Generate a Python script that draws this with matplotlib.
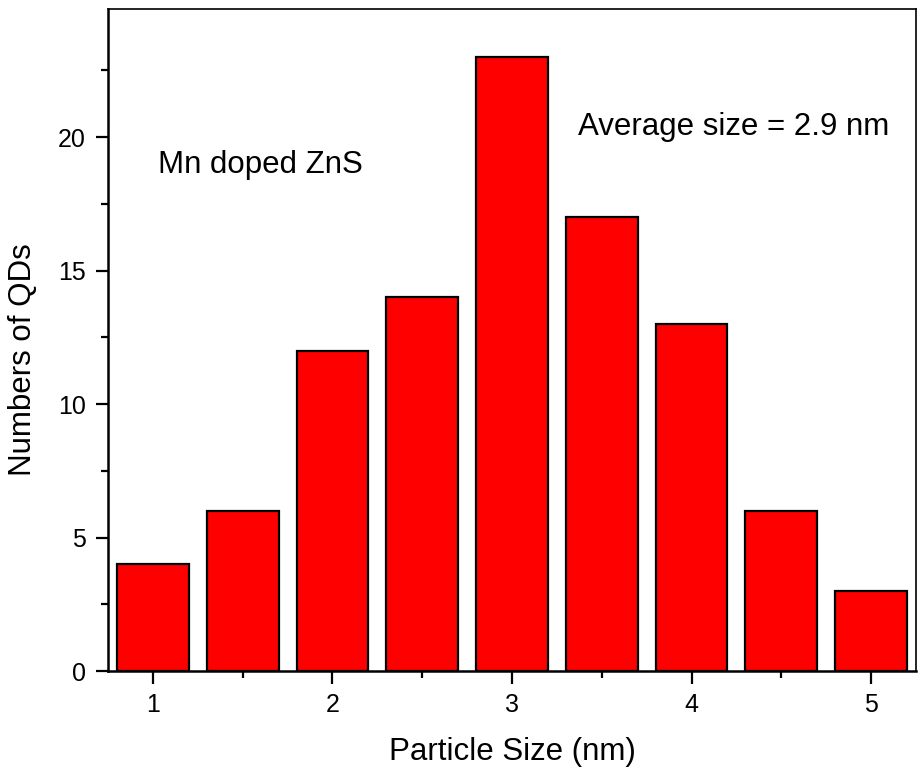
import matplotlib.pyplot as plt
from matplotlib.ticker import MultipleLocator

plt.rcParams['font.family'] = ['Liberation Sans', 'DejaVu Sans']

# particle size bins (nm) and counts
sizes = [1.0, 1.5, 2.0, 2.5, 3.0, 3.5, 4.0, 4.5, 5.0]
counts = [4, 6, 12, 14, 23, 17, 13, 6, 3]

fig = plt.figure(figsize=(9.19, 7.77), dpi=100)
ax = fig.add_axes([0.1175, 0.1364, 0.8792, 0.852])

ax.bar(sizes, counts, width=0.4, color='#ff0000', edgecolor='black', linewidth=1.6)

ax.set_xlim(0.75, 5.25)
ax.set_ylim(0, 24.8)
ax.xaxis.set_major_locator(MultipleLocator(1))
ax.xaxis.set_minor_locator(MultipleLocator(0.5))
ax.yaxis.set_major_locator(MultipleLocator(5))
ax.yaxis.set_minor_locator(MultipleLocator(2.5))
ax.tick_params(which='major', direction='out', length=9, width=1.6, labelsize=18, pad=7)
ax.tick_params(which='minor', direction='out', length=5, width=1.6)
ax.tick_params(top=False, right=False, which='both')

for side in ['left', 'bottom']:
    ax.spines[side].set_linewidth(1.8)
for side in ['top', 'right']:
    ax.spines[side].set_linewidth(1.2)

ax.set_xlabel('Particle Size (nm)', fontsize=22.5)
ax.set_ylabel('Numbers of QDs', fontsize=22.5)
ax.xaxis.set_label_coords(0.5, -0.1)
ax.yaxis.set_label_coords(-0.086, 0.47)

ax.text(0.062, 0.752, 'Mn doped ZnS', transform=ax.transAxes, fontsize=22.5)
ax.text(0.582, 0.81, 'Average size = 2.9 nm', transform=ax.transAxes, fontsize=22.5)

plt.savefig('out.png', dpi=100)
